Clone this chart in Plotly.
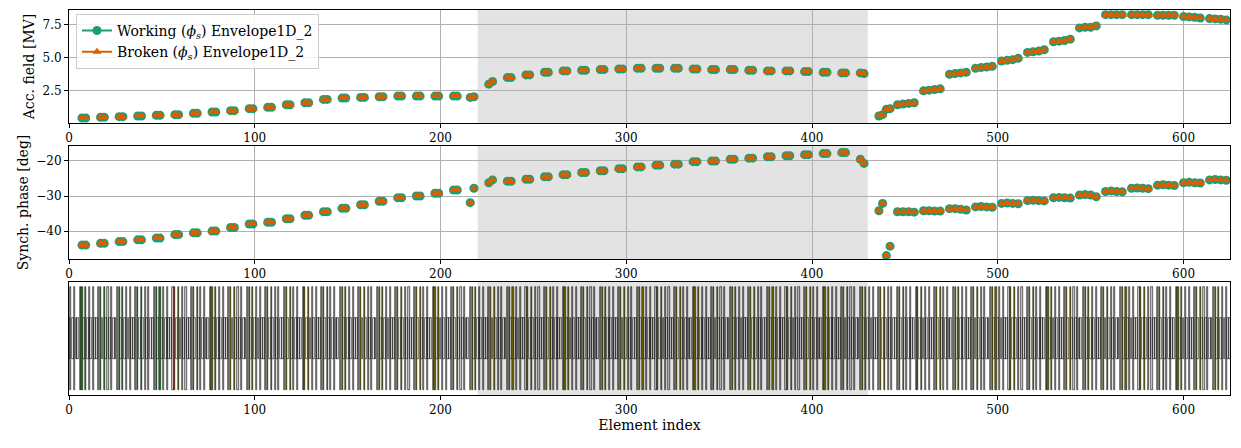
import plotly.graph_objects as go
from plotly.subplots import make_subplots

# cavity element indices and their values
cav_idx = [7, 9, 17, 19, 27, 29, 37, 39, 47, 49, 57, 59, 67, 69, 77, 79, 87, 89, 97, 99,
           107, 109, 117, 119, 127, 129, 137, 139, 147, 149, 157, 159, 167, 169, 177, 179,
           187, 189, 197, 199, 207, 209, 216, 218,
           226, 228, 236, 238, 246, 248, 256, 258, 266, 268, 276, 278, 286, 288, 296, 298,
           306, 308, 316, 318, 326, 328, 336, 338, 346, 348, 356, 358, 366, 368, 376, 378,
           386, 388, 396, 398, 406, 408, 416, 418, 426, 428,
           436, 438, 440, 442,
           446, 449, 452, 455, 460, 463, 466, 469, 474, 477, 480, 483, 488, 491, 494, 497,
           502, 505, 508, 511, 516, 519, 522, 525, 530, 533, 536, 539, 544, 547, 550, 553,
           558, 561, 564, 567, 572, 575, 578, 581, 586, 589, 592, 595, 600, 603, 606, 609,
           614, 617, 620, 623]

acc_field = [0.45, 0.45, 0.5, 0.5, 0.55, 0.55, 0.6, 0.6, 0.65, 0.65, 0.7, 0.7, 0.8, 0.8,
             0.9, 0.9, 1.0, 1.0, 1.15, 1.15, 1.25, 1.25, 1.45, 1.45, 1.6, 1.6, 1.85, 1.85,
             1.95, 1.95, 2.0, 2.0, 2.05, 2.05, 2.1, 2.1, 2.1, 2.1, 2.1, 2.1, 2.1, 2.1, 2.0, 2.05,
             3.0, 3.2, 3.5, 3.5, 3.7, 3.7, 3.9, 3.9, 4.0, 4.0, 4.05, 4.05, 4.1, 4.1, 4.15, 4.15,
             4.2, 4.2, 4.2, 4.2, 4.2, 4.2, 4.15, 4.15, 4.1, 4.1, 4.1, 4.1, 4.05, 4.05, 4.0, 4.0,
             4.0, 4.0, 3.95, 3.95, 3.9, 3.9, 3.85, 3.85, 3.85, 3.8,
             0.6, 0.7, 1.1, 1.15,
             1.45, 1.5, 1.55, 1.6, 2.5, 2.55, 2.6, 2.65, 3.75, 3.8, 3.85, 3.9, 4.2, 4.25, 4.3, 4.35,
             4.75, 4.8, 4.85, 4.95, 5.4, 5.45, 5.5, 5.6, 6.2, 6.25, 6.3, 6.4, 7.25, 7.3, 7.3, 7.4,
             8.25, 8.25, 8.25, 8.25, 8.25, 8.25, 8.25, 8.25, 8.2, 8.2, 8.2, 8.2, 8.1, 8.08, 8.05, 8.0,
             7.95, 7.93, 7.9, 7.85]

synch_phase = [-44, -44, -43.5, -43.5, -43, -43, -42.5, -42.5, -42, -42, -41, -41,
               -40.5, -40.5, -40, -40, -39, -39, -38, -38, -37.5, -37.5, -36.5, -36.5,
               -35.5, -35.5, -34.5, -34.5, -33.5, -33.5, -32.5, -32.5, -31.5, -31.5,
               -30.5, -30.5, -30, -30, -29.2, -29.2, -28.3, -28.3, -31.9, -27.8,
               -26.2, -25.4, -25.8, -25.8, -25.2, -25.2, -24.5, -24.5, -23.9, -23.9,
               -23.3, -23.3, -22.8, -22.8, -22.2, -22.2, -21.7, -21.7, -21.2, -21.2,
               -20.9, -20.9, -20.2, -20.2, -20.0, -20.0, -19.5, -19.5, -19.2, -19.2,
               -18.8, -18.8, -18.5, -18.5, -18.2, -18.2, -17.9, -17.9, -17.6, -17.6,
               -19.5, -20.7,
               -34.2, -32.1, -47, -44.3,
               -34.5, -34.5, -34.5, -34.6, -34.2, -34.2, -34.3, -34.3, -33.6, -33.6, -33.8, -34.0,
               -33.1, -33.0, -33.1, -33.2, -32.1, -32.0, -32.1, -32.2, -31.3, -31.2, -31.3, -31.4,
               -30.5, -30.4, -30.5, -30.6, -29.7, -29.6, -29.7, -30.2, -28.7, -28.6, -28.7, -28.8,
               -27.8, -27.7, -27.8, -27.9, -26.9, -26.8, -26.9, -27.0, -26.2, -26.1, -26.2, -26.3,
               -25.4, -25.3, -25.4, -25.5]

# lattice layout for bottom panel (one repeating period of 10 elements)
period = "DQDQDDQCDC"
n_elements = 626
failed_zone = (220, 430)

GREEN, ORANGE = "#1b9e77", "#d95f02"
FONT = "DejaVu Serif"

fig = make_subplots(rows=3, cols=1, vertical_spacing=0.06)

series = [("Working (<i>ϕ<sub>s</sub></i>) Envelope1D_2", "circle", GREEN, 9),
          ("Broken (<i>ϕ<sub>s</sub></i>) Envelope1D_2", "triangle-up", ORANGE, 8)]
for name, sym, col, size in series:
    fig.add_trace(go.Scatter(x=cav_idx, y=acc_field, mode="markers", showlegend=False,
                             marker=dict(symbol=sym, color=col, size=size)), row=1, col=1)
    fig.add_trace(go.Scatter(x=cav_idx, y=synch_phase, mode="markers", showlegend=False,
                             marker=dict(symbol=sym, color=col, size=size)), row=2, col=1)
    # legend entry with line + marker, like the reference
    fig.add_trace(go.Scatter(x=[None], y=[None], mode="lines+markers", name=name,
                             line=dict(color=col, width=2),
                             marker=dict(symbol=sym, color=col, size=size)), row=1, col=1)

# lattice elements
drift_x, quad_x, cav_x, cav_col = [], [], [], []
red_done = False
for i in range(n_elements):
    t = period[i % len(period)]
    if t == "D":
        drift_x.append(i)
    elif t == "Q":
        quad_x.append(i)
    else:
        cav_x.append(i)
        if i < 50:
            cav_col.append("#1f7a1f")
        elif not red_done:
            cav_col.append("#d62020")
            red_done = True
        else:
            cav_col.append("#6b6b00")

fig.add_trace(go.Bar(x=drift_x, y=[0.8] * len(drift_x), base=-0.4, width=1.0,
                     marker=dict(color="rgba(0,0,0,0)", line=dict(color="black", width=0.6)),
                     showlegend=False), row=3, col=1)
fig.add_trace(go.Bar(x=quad_x, y=[2] * len(quad_x), base=-1, width=0.6,
                     marker=dict(color="rgba(0,0,0,0.15)", line=dict(color="black", width=0.6)),
                     showlegend=False), row=3, col=1)
fig.add_trace(go.Bar(x=cav_x, y=[2] * len(cav_x), base=-1, width=0.6,
                     marker=dict(color=cav_col, line=dict(color="black", width=0.5)),
                     showlegend=False), row=3, col=1)

# shaded failure zone in every panel
for k in ("", "2", "3"):
    fig.add_shape(type="rect", xref="x" + k, yref=f"y{k} domain", x0=failed_zone[0],
                  x1=failed_zone[1], y0=0, y1=1, fillcolor="#e3e3e3", line_width=0,
                  layer="below")

axis_common = dict(showline=True, linecolor="black", mirror=True, ticks="outside",
                   tickcolor="black", range=[0, 625], zeroline=False, ticklen=4)
for row in (1, 2, 3):
    fig.update_xaxes(tickvals=[0, 100, 200, 300, 400, 500, 600], showgrid=(row != 3),
                     gridcolor="#b0b0b0", row=row, col=1, **axis_common)
fig.update_xaxes(title_text="Element index", title_standoff=2, row=3, col=1)

fig.update_yaxes(title_text="Acc. field [MV]", range=[0.07, 8.6], tickvals=[2.5, 5.0, 7.5],
                 ticktext=["2.5", "5.0", "7.5"], row=1, col=1)
fig.update_yaxes(title_text="Synch. phase [deg]", range=[-48, -15.7], tickvals=[-40, -30, -20],
                 ticktext=["\u221240", "\u221230", "\u221220"], row=2, col=1)
fig.update_yaxes(range=[-1.1, 1.1], showticklabels=False, showgrid=False, row=3, col=1)
for row in (1, 2):
    fig.update_yaxes(showline=True, linecolor="black", mirror=True, ticks="outside",
                     tickcolor="black", showgrid=True, gridcolor="#b0b0b0", zeroline=False,
                     ticklen=4, title_standoff=4, automargin=False, row=row, col=1)
fig.update_yaxes(showline=True, linecolor="black", mirror=True, zeroline=False,
                 automargin=False, row=3, col=1)
fig.update_xaxes(automargin=False)

fig.update_layout(
    width=1241, height=448,
    margin=dict(l=69, r=11, t=10, b=53),
    plot_bgcolor="rgba(0,0,0,0)", paper_bgcolor="white",
    font=dict(family=FONT, size=12, color="black"),
    barmode="overlay", bargap=0,
    yaxis=dict(domain=[0.7065, 1.0]),
    yaxis2=dict(domain=[0.353, 0.647]),
    yaxis3=dict(domain=[0.0, 0.2935]),
    legend=dict(x=0.006, y=0.99, xanchor="left", yanchor="top", bgcolor="rgba(255,255,255,0.85)",
                bordercolor="#cccccc", borderwidth=1, font=dict(size=14)),
)

fig.write_html("out.html", config={"displayModeBar": False},
               post_script="document.body.style.margin='0';")
